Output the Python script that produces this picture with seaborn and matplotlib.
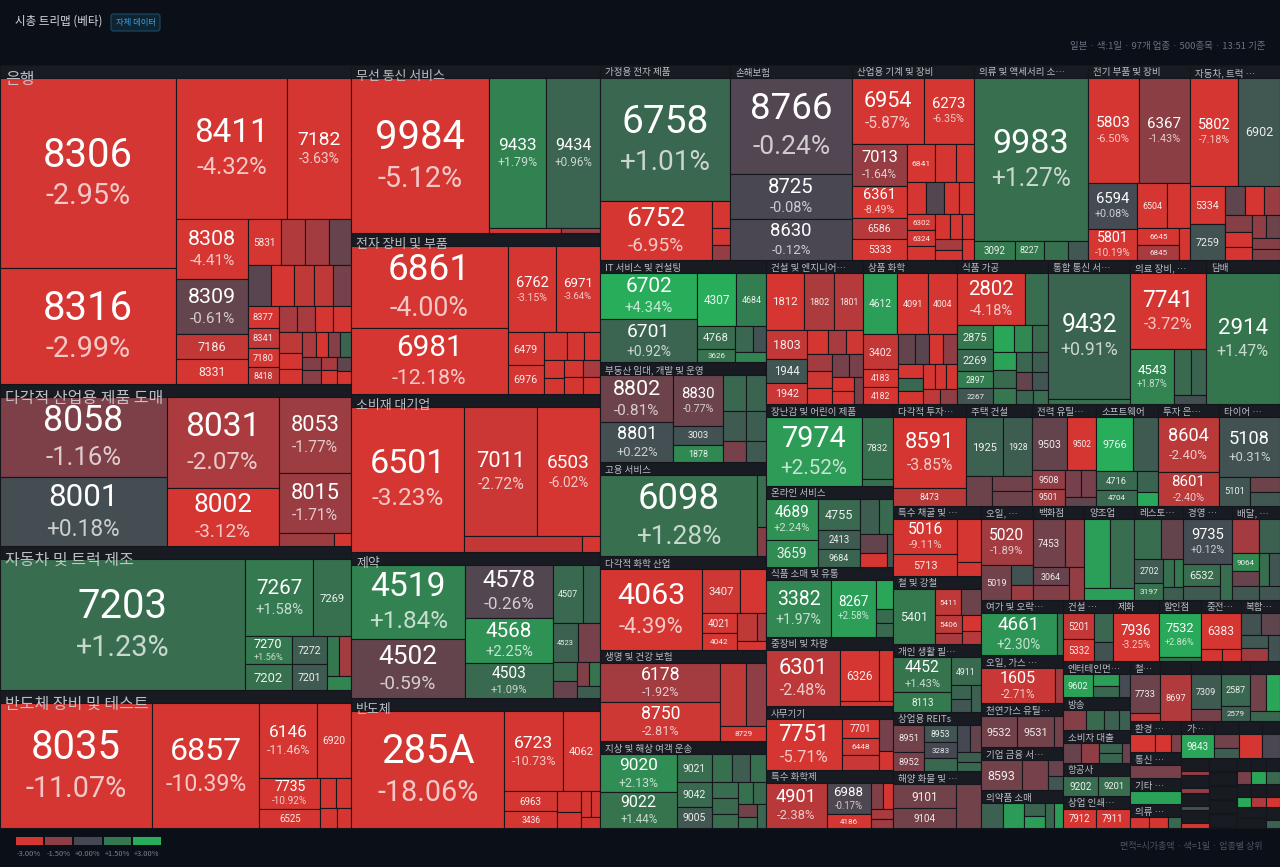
import matplotlib
matplotlib.use("Agg")
import matplotlib.pyplot as plt
from matplotlib.patches import FancyBboxPatch, Rectangle
import seaborn as sns

# sectors, biggest first; caps and tile weights are market cap estimates
SECTORS = ["은행", "다각적 산업용 제품 도매", "자동차 및 트럭 제조", "반도체 장비 및 테스트", "무선 통신 서비스", "전자 장비 및 부품",
           "소비재 대기업", "제약", "반도체", "가정용 전자 제품", "손해보험", "산업용 기계 및 장비", "의류 및 액세서리 소…", "전기 부품 및 장비",
           "자동차, 트럭 …", "IT 서비스 및 컨설팅", "부동산 임대, 개발 및 운영", "고용 서비스", "다각적 화학 산업", "생명 및 건강 보험",
           "지상 및 해상 여객 운송", "건설 및 엔지니어…", "상품 화학", "식품 가공", "통합 통신 서…", "의료 장비, …", "담배",
           "장난감 및 어린이 제품", "온라인 서비스", "식품 소매 및 유통", "중장비 및 차량", "사무기기", "특수 화학제", "다각적 투자…", "주택 건설",
           "전력 유틸…", "소프트웨어", "투자 은…", "타이어 …", "특수 채굴 및 …", "철 및 강철", "개인 생활 필…", "상업용 REITs",
           "해양 화물 및 …", "오일, …", "백화점", "양조업", "레스토…", "경영 …", "배달, …", "여가 및 오락…", "오일, 가스 …",
           "천연가스 유틸…", "기업 금융 서…", "의약품 소매", "건설 …", "제화", "할인점", "중전…", "복합…", "엔터테인먼…", "방송",
           "소비자 대출", "항공사", "상업 인쇄…", "철…", "", "", "", "", "환경 …", "통신 …", "기타 …", "의류 …", "가…", "", "", "",
           "", "", "", "", "", "", "", "", "", "", "", "", "", "", "", "", "", ""]
SECTOR_CAPS = [1120, 569, 505, 484, 418, 401, 393, 364, 324, 253, 238, 237, 222, 199, 176, 169, 166, 156, 155, 151,
               144, 140, 135, 131, 118, 109, 107, 104, 103, 89, 88, 81, 74, 74, 67, 65, 63, 62, 61.9, 61, 60, 59, 52,
               49.5, 49, 48.5, 47, 46, 46, 45, 44.9, 40, 36, 35, 31, 31, 28, 26, 24.5, 24, 24, 22, 22, 22, 21.5,
               18.4, 18.2, 18, 17.9, 17.7, 16, 13.5, 13.5, 12.2, 12, 9, 8.3, 6.5,
               4.9, 4.9, 4.9, 4.9, 3.85, 3.85, 3.85, 3.85, 3.85, 3.8, 3.8, 3.8, 3.4, 3.4, 3.4, 3.0, 3.0, 3.0]

TICKERS = [
    ["8306", "8316", "8411", "7182", "8308", "8309", "7186", "8331", "5831", "", "", "", "", "", "", "", "", "8377", "8341", "7180", "8418",
     "", "", "", "", "", "", "", "", "", "", "", "", "", "", "", "", ""],
    ["8058", "8001", "8031", "8002", "8053", "8015", "", ""],
    ["7203", "7267", "7269", "7270", "7202", "7272", "7201", "", "", ""],
    ["8035", "6857", "6146", "6920", "7735", "6525", "", "", "", ""],
    ["9984", "9433", "9434", "", ""],
    ["6861", "6981", "6762", "6971", "6479", "6976", "", "", "", "", "", "", "", "", ""],
    ["6501", "7011", "6503", "", ""],
    ["4519", "4502", "4578", "4568", "4503", "4507", "", "4523", "", "", "", "", "", ""],
    ["285A", "6723", "4062", "6963", "3436", "", "", "", "", ""],
    ["6758", "6752", "", "", ""],
    ["8766", "8725", "8630"],
    ["6954", "6273", "7013", "6361", "6586", "5333", "6841", "", "", "", "", "", "", "6302", "6324", "", "", "", "", "", "", ""],
    ["9983", "3092", "8227", "", ""],
    ["5803", "6367", "6594", "5801", "6504", "", "6645", "6845", ""],
    ["5802", "6902", "5334", "7259", "", "", "", "", "", "", "", "", "", ""],
    ["6702", "6701", "4307", "4684", "4768", "3626", "", "", ""],
    ["8802", "8801", "8830", "3003", "1878", "", "", "", "", "", ""],
    ["6098", "", ""],
    ["4063", "3407", "", "4021", "4042", "", "", ""],
    ["6178", "8750", "", "", "8729"],
    ["9020", "9022", "9021", "9042", "9005", "", "", "", "", "", "", "", "", "", "", ""],
    ["1812", "1802", "1801", "1803", "1944", "1942", "", "", "", "", "", "", "", "", "", "", ""],
    ["4612", "4091", "4004", "3402", "4183", "4182", "", "", "", "", "", "", "", "", "", "", "", ""],
    ["2802", "", "2875", "2269", "2897", "2267", "", "", "", "", "", "", "", "", "", "", "", ""],
    ["9432", ""],
    ["7741", "4543", "", "", ""],
    ["2914"],
    ["7974", "7832", ""],
    ["4689", "3659", "4755", "2413", "9684", "", "", "", "", ""],
    ["3382", "8267", "", "", ""],
    ["6301", "6326", "", ""],
    ["7751", "7701", "6448", "", "", ""],
    ["4901", "6988", "4186", "", "", "", ""],
    ["8591", "8473"],
    ["1925", "1928", "", "", ""],
    ["9503", "9502", "9508", "9501", "", "", ""],
    ["9766", "", "4716", "4704", "", ""],
    ["8604", "8601"],
    ["5108", "5101", "", ""],
    ["5016", "5713", "", ""],
    ["5401", "5411", "5406", "", "", "", ""],
    ["4452", "8113", "4911", "", "", ""],
    ["8951", "8952", "8953", "3283", "", "", "", "", ""],
    ["9101", "9104", ""],
    ["5020", "5019", "", ""],
    ["7453", "", "3064", "", ""],
    ["", "", ""],
    ["", "", "2702", "3197", "", "", ""],
    ["9735", "6532", "", ""],
    ["", "", "9064", "", "", "", "", ""],
    ["4661", ""],
    ["1605", ""],
    ["9532", "9531", ""],
    ["8593", "", "", ""],
    ["", "", "", "", "", ""],
    ["5201", "5332", "", ""],
    ["7936"],
    ["7532", ""],
    ["6383", "", ""],
    ["", "", "", "", ""],
    ["9602", "", "", ""],
    ["", "", "", ""],
    ["", "", "", "", ""],
    ["9202", "9201"],
    ["7912", "7911"],
    ["7733", ""],
    ["8697"],
    ["7309", ""],
    ["2587", "2579"],
    ["", "", ""],
    ["", "", ""],
    [""],
    [""],
    ["", "", ""],
    ["9843"],
    ["", ""],
    [""],
    [""],
] + [[""] for _ in range(18)]

CHANGES = [
    [-2.95, -2.99, -4.32, -3.63, -4.41, -0.61, -2.6, -3.1, -3.5, -2.2, -1.9, -0.7, -0.4, -3.0, -2.5, -2.5, -1.0, -3.0, -2.6, -3.0, -2.6,
     -2.0, -2.0, -3.0, -3.0, -2.5, -3.0, -3.0, -1.3, 0.9, -2.0, -3.0, -1.2, -1.4, -2.0, -3.0, -0.5, -3.0],
    [-1.16, 0.18, -2.07, -3.12, -1.77, -1.71, -1.8, -3.0],
    [1.23, 1.58, 1.3, 1.56, 1.3, 0.7, 0.6, 1.5, -1.9, 1.9],
    [-11.07, -10.39, -11.46, -5.0, -10.92, -6.0, -3.0, -3.0, -3.0, -3.0],
    [-5.12, 1.79, 0.96, -3.0, -1.7],
    [-4.0, -12.18, -3.15, -3.64, -3.5, -3.5, -3.0, -3.0, -3.0, -3.0, -3.0, -3.0, -3.0, -2.0, -3.0],
    [-3.23, -2.72, -6.02, -2.6, -3.0],
    [1.84, -0.59, -0.26, 2.25, 1.09, 1.1, 0.9, 0.8, -1.0, 1.1, -1.2, 0.7, -0.7, 1.4],
    [-18.06, -10.73, -7.0, -5.0, -4.0, -3.0, -3.0, -3.0, -3.0, -3.0],
    [1.01, -6.95, -3.0, -3.0, -1.6],
    [-0.24, -0.08, -0.12],
    [-5.87, -6.35, -1.64, -8.49, -2.3, -4.0, -3.0, -3.0, -3.0, -3.0, -0.3, -3.0, -3.0, -3.0, -3.0, -3.0, -3.0, -2.0, -3.0, -3.0, -3.0, -3.0],
    [1.27, 1.6, 1.6, 1.3, 0.5],
    [-6.5, -1.43, 0.08, -10.19, -5.0, -3.5, -3.0, -2.0, -3.0],
    [-7.18, 0.5, -3.5, 0.3, -3.0, -0.5, -1.7, -1.3, -3.0, -3.0, -1.5, -0.8, -1.3, -1.2],
    [4.34, 0.92, 3.0, 1.7, 1.2, 1.4, 1.0, 0.3, 1.9],
    [-0.81, 0.22, -0.77, 0.3, 2.0, 1.0, 0.6, 0.9, 0.7, -1.0, 0.6],
    [1.28, 1.2, -1.2],
    [-4.39, -2.8, -3.5, -3.3, -3.3, -2.5, -2.0, -3.0],
    [-1.92, -2.81, -2.5, -1.5, -3.0],
    [2.13, 1.44, 1.2, 1.1, 0.5, 1.3, 1.3, 0.7, 1.2, 1.1, 1.2, 1.3, 1.1, -0.9, 1.2, 1.0],
    [-3.5, -2.1, -2.3, -2.6, 0.4, -2.7, -3.0, -2.0, -3.0, -2.8, -1.9, -2.8, -1.0, -1.0, -3.0, -3.0, -1.0],
    [2.6, -3.2, -3.2, -2.6, -3.0, -3.0, -0.6, -0.4, -3.0, -1.5, -3.0, 1.0, -3.0, -3.0, -3.0, -1.5, -3.0, -2.5],
    [-4.18, 1.2, 1.5, 1.0, 1.7, 0.4, 2.8, 2.0, 1.1, 1.1, 1.5, 1.0, 2.7, -0.6, 0.7, 0.4, 0.9, 1.2],
    [0.91, 1.3],
    [-3.72, 1.87, 1.1, 0.9, 0.2],
    [1.47],
    [2.52, 1.3, 1.3],
    [2.24, 2.1, 1.1, 0.6, 0.9, 0.7, 1.1, -0.6, -3.0, 0.4],
    [1.97, 2.58, 2.8, 1.1, 1.1],
    [-2.48, -3.0, -3.0, -3.0],
    [-5.71, -3.0, -2.8, -2.7, -1.0, -3.0],
    [-2.38, -0.17, -3.2, -1.2, -3.0, -2.0, -1.8],
    [-3.85, -2.4],
    [0.8, 0.7, -0.8, -0.9, -0.8],
    [-0.6, -3.5, -1.5, -1.8, -1.0, -1.0, -0.5],
    [3.0, 0.6, 1.1, 1.1, 0.9, 2.9],
    [-2.4, -2.4],
    [0.31, 0.4, -0.8, 0.5],
    [-9.11, -3.5, -3.0, -3.0],
    [1.6, -2.5, -2.5, -0.8, -2.0, -3.0, -2.3],
    [1.43, 1.6, 1.1, 0.9, 0.4, 0.8],
    [-0.9, -1.1, 0.4, 0.0, 0.0, -0.6, 1.0, 0.7, 1.0],
    [-0.9, -0.9, -0.9],
    [-1.89, -0.9, 0.3, -1.7],
    [-0.9, -1.4, -0.7, -1.2, -1.6],
    [2.6, 1.2, 2.6],
    [1.2, -0.6, 0.6, 1.3, 1.3, 1.5, 0.7],
    [0.12, 1.2, 1.2, 0.6],
    [-1.9, 0.8, 2.0, 0.5, -0.7, 1.2, 0.4, 0.4],
    [2.3, 1.3],
    [-2.71, -1.8],
    [-0.9, -0.9, -0.9],
    [-0.9, -1.0, -0.7, 0.4],
    [0.8, 2.5, 0.9, 1.0, 2.6, 2.5],
    [-2.6, -3.0, 1.0, 0.3],
    [-3.25],
    [2.86, 1.3],
    [-3.2, -3.0, -3.0],
    [0.3, -0.5, 0.5, 0.3, -1.8],
    [2.7, 1.0, 2.6, 0.1],
    [-1.3, 1.1, 0.8, 0.8],
    [-0.7, -1.5, 0.9, 0.9, -0.7],
    [1.2, 1.2],
    [-3.3, -3.3],
    [-0.8, -2.5],
    [-2.2],
    [0.6, -1.0],
    [1.0, 0.7],
    [-0.9, 2.8, 1.0],
    [-3.2, -3.2, -1.1],
    [-1.0],
    [2.7],
    [-3.2, -3.2, 1.0],
    [2.8],
    [-0.9, 0.7],
    [-3.4],
    [-0.1],
    [-1.6], [-1.5], [0.3], [-3.0],
    [0.0], [0.0], [0.0], [0.0], [0.0],
    [-1.0], [2.8], [1.1],
    [2.9], [-2.2], [-3.3],
    [0.0], [0.9], [0.9],
]

WEIGHTS = [
    [334, 204, 155, 90, 43, 39, 18, 17.5, 15.5, 11, 11, 10.5, 9.5, 9, 8.2, 7.5, 7.5, 6.8, 6.3, 5.8, 5.3,
     5, 4.8, 4.8, 4.8, 4.8, 3.8, 3.6, 2.8, 2.8, 3.3, 2.9, 2.6, 2.6, 2.2, 2.2, 2, 1.8],
    [130, 114, 100, 64, 54, 43, 7.2, 2.2],
    [315, 52, 28.5, 13, 12, 9.5, 9, 4.8, 4.8, 3.5],
    [186, 131, 42, 25, 18.5, 11.5, 4.8, 4.5, 3.2, 2.7],
    [211, 85, 80, 3.6, 2],
    [125, 100, 41, 37, 11.5, 10, 6.3, 4.5, 4.2, 3.5, 3.2, 3.1, 3.2, 3, 2.9],
    [160, 92, 80, 17.5, 2.8],
    [83, 65, 45, 39, 29.5, 17, 10, 9.5, 8.5, 4.5, 2.8, 2.7, 4, 2.8],
    [173, 45, 29, 10, 8.6, 5, 2.4, 2.3, 3.8, 2],
    [159, 65, 5, 3, 2.8],
    [116, 55, 50],
    [45, 31, 22, 17, 11, 11, 10.4, 7.4, 6.7, 5.9, 5.5, 4.6, 4.5, 4.3, 4.1, 3.4, 3, 2.6, 3.9, 2.7, 2.4, 2.6],
    [185, 8, 5.6, 4.8, 3.8],
    [52, 51, 22, 15, 13, 10, 6.7, 6.2, 3.2],
    [50, 43, 12.7, 12.3, 5.3, 5.5, 4.4, 4.3, 3.7, 3.4, 3.2, 3, 3, 3],
    [43, 40, 20, 15, 8.5, 5, 4.4, 3.4, 3],
    [34, 28.5, 24.5, 9.2, 8.6, 8.3, 6.7, 7, 5.8, 4.9, 4.1],
    [126, 4.5, 2.6],
    [78, 16, 11, 6.7, 5.5, 5.4, 2.4, 2.4],
    [45, 45, 15.3, 12.4, 6.5],
    [28, 26, 9, 8.2, 7, 5.5, 4.3, 4.6, 4, 3.9, 3.5, 3.2, 2.8, 2.4, 2, 2],
    [20.5, 16, 15.5, 11.6, 9, 8.4, 4.8, 4.2, 3.8, 4, 4, 4, 3.7, 3, 3, 2.6, 2.4],
    [19.5, 17.5, 16.5, 11.5, 5.6, 5.6, 4.7, 4, 3.9, 3.8, 3.4, 3.1, 3, 2.8, 2.5, 2.4, 2.8, 2.5],
    [33.5, 11.5, 8.3, 7.5, 6, 5.5, 5.2, 4.6, 3.9, 4.2, 3.4, 3, 4, 2.8, 3, 2.7, 2.4, 2],
    [101, 4],
    [57, 24, 7.6, 6.6, 3],
    [96],
    [63, 18.6, 2.2],
    [19.5, 13, 12, 7.4, 7, 6, 4.8, 4.5, 3.5, 2],
    [34, 23.5, 4.5, 2.2, 2.1],
    [38, 18.5, 6.8, 2.5],
    [38, 7, 6, 5.5, 4.5, 2.6],
    [27, 13.5, 6.2, 3.3, 2.6, 2.2, 2],
    [50, 12.5],
    [21, 16.5, 7.3, 5.8, 5.6],
    [18, 14.5, 5.7, 5.4, 4, 3.8, 2.7],
    [19, 13, 7.3, 6.3, 4.2, 2.8],
    [33, 20],
    [35, 8.7, 4.4, 4],
    [21, 13, 9.5, 3],
    [22, 6.8, 4.6, 4.9, 3, 2.8, 2.4],
    [19, 11, 7.8, 2.5, 2.5, 2.3],
    [7.2, 5.3, 4.9, 4.5, 3.2, 2.4, 3.8, 2, 2],
    [14.5, 12, 10.3],
    [23, 10, 4, 3],
    [15.5, 9, 6.3, 5.2, 4.8],
    [16.5, 16, 5.5],
    [10, 8.5, 6.4, 4.5, 2.7, 2.4, 2.4],
    [21, 7.7, 4, 5],
    [8.6, 7, 4.6, 3.5, 3.8, 3.3, 3.3, 2.8],
    [29.5, 2.2],
    [24.5, 2.4],
    [11, 11, 2.6],
    [11.6, 7.2, 2.2, 2],
    [5.5, 5, 2.7, 2.3, 2.4, 2],
    [8, 6.8, 5.2, 3.5],
    [21.5],
    [18.5, 2],
    [13.8, 2.4, 2.2],
    [4, 3.6, 3, 2.8, 3],
    [6, 2.5, 2.6, 2],
    [4.6, 3.5, 3.1, 2],
    [3.5, 3.3, 2.2, 2, 1.5],
    [7, 6.2],
    [5.6, 5.6],
    [11.8, 2.4],
    [13.5],
    [9.6, 3.3],
    [8.5, 4],
    [5.3, 4.6, 2.7],
    [4.4, 2.9, 1.8],
    [5.7],
    [5.8],
    [1.5, 1.4, 1],
    [7],
    [3.1, 2.1],
    [5.2],
    [3.8],
] + [[1] for _ in range(18)]

PCT_LABELLED = {"8306", "8316", "8411", "7182", "8308", "8309", "8058", "8001", "8031", "8002", "8053", "8015", "7203", "7267", "7270",
                "8035", "6857", "6146", "7735", "9984", "9433", "9434", "6861", "6981", "6762", "6971", "6501", "7011", "6503", "4519",
                "4502", "4578", "4568", "4503", "285A", "6723", "6758", "6752", "8766", "8725", "8630", "6954", "6273", "7013", "6361",
                "9983", "5803", "6367", "6594", "5801", "5802", "6702", "6701", "8802", "8801", "8830", "6098", "4063", "6178", "8750",
                "9020", "9022", "7974", "4689", "3382", "8267", "6301", "7751", "4901", "6988", "8591", "2802", "9432", "7741", "4543",
                "2914", "8604", "8601", "5108", "5016", "4452", "5020", "9735", "4661", "1605", "7936", "7532"}

LEGEND_STEPS = [-3.0, -1.5, 0.0, 1.5, 3.0]
PALETTE = ["#d63632", "#8f3e45", "#454853", "#35764e", "#28ad5b"]

BG = "#0b0f17"
HEADER = "#181b22"
EDGE = "#14161c"
PHI = (1 + 5 ** 0.5) / 2


def squarify(values, x0, y0, x1, y1):
    """Same row logic as d3's treemapSquarify; values must be sorted big to small."""
    rects = []
    remaining = sum(values)
    i = 0
    while i < len(values):
        dx, dy = x1 - x0, y1 - y0
        j = i + 1
        total = lo = hi = values[i]
        alpha = max(dy / dx, dx / dy) / (remaining * PHI)
        beta = total * total * alpha
        best = max(hi / beta, beta / lo)
        while j < len(values):
            v = values[j]
            new_lo, new_hi = min(lo, v), max(hi, v)
            beta = (total + v) ** 2 * alpha
            ratio = max(new_hi / beta, beta / new_lo)
            if ratio > best:
                break
            total += v
            lo, hi, best = new_lo, new_hi, ratio
            j += 1
        if dx < dy:
            y2 = y0 + dy * total / remaining
            x = x0
            for v in values[i:j]:
                w = dx * v / total
                rects.append((x, y0, x + w, y2))
                x += w
            y0 = y2
        else:
            x2 = x0 + dx * total / remaining
            y = y0
            for v in values[i:j]:
                h = dy * v / total
                rects.append((x0, y, x2, y + h))
                y += h
            x0 = x2
        remaining -= total
        i = j
    return rects


def draw_tile(ax, rect, ticker, change, cmap):
    x0, y0, x1, y1 = rect
    ax.add_patch(Rectangle((x0, y0), x1 - x0, y1 - y0, fc=cmap((change + 3) / 6), ec=EDGE, lw=0.8, zorder=2))
    if not ticker:
        return
    w, h = x1 - x0, y1 - y0
    cx, cy = (x0 + x1) / 2, (y0 + y1) / 2
    font = ["Roboto", "DejaVu Sans"]
    if ticker in PCT_LABELLED:
        size = min(0.3 * w, 0.45 * h, 40)
        ax.text(cx, cy - 0.45 * size, ticker, color="white", fontsize=size * 0.72, ha="center", va="center",
                family=font, zorder=4)
        ax.text(cx, cy + 0.58 * size, f"{change:+.2f}%", color="#ffffffbb", fontsize=size * 0.72 * 0.72,
                ha="center", va="center", family=font, zorder=4)
    else:
        size = min(0.3 * w, max(0.5 * h, 8), 40)
        ax.text(cx, cy + 0.08 * size, ticker, color="#ffffffe6", fontsize=size * 0.72, ha="center", va="center",
                family=font, zorder=4)


sns.set_theme(style="dark", rc={"figure.facecolor": BG, "axes.facecolor": BG})
plt.rcParams["font.family"] = ["Noto Sans CJK KR", "DejaVu Sans"]

fig = plt.figure(figsize=(12.8, 8.67), dpi=100)
ax = fig.add_axes([0, 0, 1, 1])
ax.set_xlim(0, 1280)
ax.set_ylim(867, 0)
ax.axis("off")
cmap = sns.blend_palette(PALETTE, as_cmap=True)

order = sorted(range(len(SECTORS)), key=lambda k: -SECTOR_CAPS[k])
caps = [SECTOR_CAPS[k] for k in order]
for k, box in zip(order, squarify(caps, 0, 65, 1280, 828)):
    x0, y0, x1, y1 = box
    ax.add_patch(Rectangle((x0, y0), x1 - x0, y1 - y0, fc=HEADER, ec=EDGE, lw=0.8, zorder=1))
    if y1 - y0 > 13.5:
        tiles = sorted(zip(WEIGHTS[k], TICKERS[k], CHANGES[k]), key=lambda t: -t[0])
        rects = squarify([t[0] for t in tiles], x0, y0 + 13, x1, y1)
        for rect, (_, ticker, change) in zip(rects, tiles):
            draw_tile(ax, rect, ticker, change, cmap)
    if SECTORS[k]:
        px = min(max((x1 - x0) * 0.052, 9.5), 16)
        ax.text(x0 + 5, y0 + 8 + max(0, px - 9.5), SECTORS[k], color="#c9cdd2", fontsize=px * 0.72,
                ha="left", va="center", alpha=0.92, zorder=5)

ax.text(15, 21, "시총 트리맵 (베타)", color="#d5d8dc", fontsize=8.3, ha="left", va="center")
ax.add_patch(FancyBboxPatch((111, 14), 49, 17, boxstyle="round,pad=0,rounding_size=2.5", fc="#0f2433", ec="#1f4a66", lw=0.8))
ax.text(135.5, 22, "자체 데이터", color="#3b9ede", fontsize=6, ha="center", va="center")
ax.text(1265, 46, "일본 · 색:1일 · 97개 업종 · 500종목 · 13:51 기준", color="#6b7280", fontsize=6.8, ha="right", va="center")
ax.text(1263, 847, "면적=시가총액 · 색=1일 · 업종별 상위", color="#4b5563", fontsize=6.5, ha="right", va="center")

leg = fig.add_axes([14.5 / 1280, 1 - 846 / 867, 147 / 1280, 10 / 867])
sns.heatmap([LEGEND_STEPS], ax=leg, cmap=cmap, vmin=-3, vmax=3, cbar=False, linewidths=1.2, linecolor=BG,
            xticklabels=[f"{s:+.2f}%" for s in LEGEND_STEPS], yticklabels=False)
leg.tick_params(axis="x", length=0, pad=3, labelsize=5.4, labelcolor="#7b8290", labelrotation=0)

fig.savefig("out.png", dpi=100, facecolor=BG)
